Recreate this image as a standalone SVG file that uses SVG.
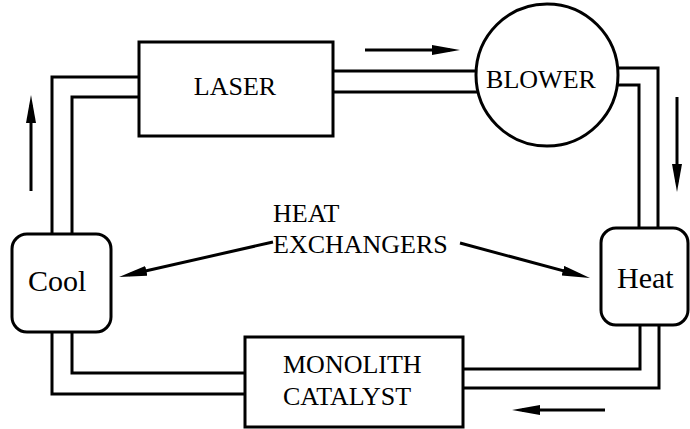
<svg xmlns="http://www.w3.org/2000/svg" width="690" height="429" viewBox="0 0 690 429">
<style>
.ln{fill:none;stroke:#000;stroke-width:3;stroke-linejoin:miter}
.bx{fill:#fff;stroke:#000;stroke-width:3}
.t{font-family:"Liberation Serif","Times New Roman",serif;font-size:26px;fill:#000}
.tb{font-family:"Liberation Serif","Times New Roman",serif;font-size:30px;fill:#000}
.ar{fill:none;stroke:#000;stroke-width:3;marker-end:url(#ah)}
</style>
<defs>
<marker id="ah" markerUnits="userSpaceOnUse" markerWidth="30" markerHeight="12" refX="18" refY="5" orient="auto">
<path d="M0,0 L28,5 L0,10 Z" fill="#000"/>
</marker>
</defs>
<rect width="690" height="429" fill="#fff"/>
<g id="connectors">
<path class="ln" d="M139,77 H52 V234"/>
<path class="ln" d="M139,97 H72 V234"/>
<path class="ln" d="M52,332 V394 H245"/>
<path class="ln" d="M72,332 V373 H245"/>
<path class="ln" d="M333,71 H500"/>
<path class="ln" d="M333,92 H500"/>
<path class="ln" d="M600,68 H658 V228"/>
<path class="ln" d="M600,85 H639 V228"/>
<path class="ln" d="M640,325 V369 H463"/>
<path class="ln" d="M659,325 V388 H463"/>
<path class="ar" d="M31,191 V105"/>
<path class="ar" d="M365,50 H450"/>
<path class="ar" d="M677,97 V182"/>
<path class="ar" d="M605,410 H522"/>
<path class="ar" d="M273,242 L128.8,274.8"/>
<path class="ar" d="M460,243 L580.3,275.4"/>
</g>
<g id="laser">
<rect class="bx" x="139" y="42" width="194" height="94"/>
<text class="t" x="235" y="95" text-anchor="middle">LASER</text>
</g>
<g id="blower">
<circle class="bx" cx="547" cy="75" r="71"/>
<text class="t" x="541" y="88" text-anchor="middle">BLOWER</text>
</g>
<g id="cool">
<rect class="bx" x="12" y="234" width="99" height="98" rx="15"/>
<text class="tb" x="28" y="291">Cool</text>
</g>
<g id="heat">
<rect class="bx" x="601" y="228" width="87" height="97" rx="15"/>
<text class="tb" x="617" y="288">Heat</text>
</g>
<g id="monolith">
<rect class="bx" x="245" y="337" width="218" height="90"/>
<text class="t" x="283" y="373">MONOLITH</text>
<text class="t" x="283" y="405">CATALYST</text>
</g>
<g id="label">
<text class="t" x="273" y="222">HEAT</text>
<text class="t" x="273" y="253">EXCHANGERS</text>
</g>
</svg>
